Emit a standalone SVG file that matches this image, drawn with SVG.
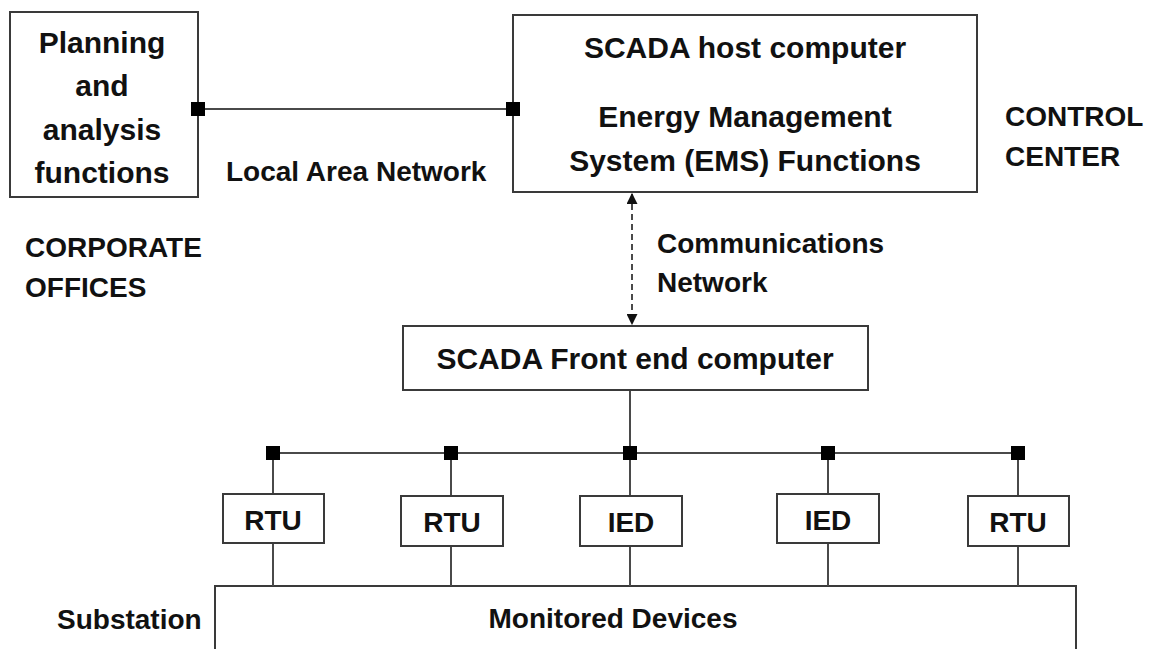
<svg xmlns="http://www.w3.org/2000/svg" width="1155" height="649" viewBox="0 0 1155 649">
<style>
.box{fill:#fff;stroke:#3a3a3a;stroke-width:2}
.ln{stroke:#4a4a4a;stroke-width:2;fill:none}
.t{font-family:"Liberation Sans",Arial,sans-serif;font-weight:bold;font-size:28px;fill:#111}
.tb{font-size:30px}
.c{text-anchor:middle}
.sq{fill:#000}
</style>
<defs>
<marker id="ah" viewBox="0 0 10 10" refX="9" refY="5" markerWidth="11" markerHeight="11" markerUnits="userSpaceOnUse" orient="auto-start-reverse">
<path d="M0,0 L10,5 L0,10 z" fill="#111"/>
</marker>
</defs>
<rect width="1155" height="649" fill="#fff"/>
<g id="planning">
<rect class="box" x="10" y="12" width="188" height="185"/>
<text class="t tb c" x="102" y="53">Planning</text>
<text class="t tb c" x="102" y="96">and</text>
<text class="t tb c" x="102" y="140">analysis</text>
<text class="t tb c" x="102" y="183">functions</text>
</g>
<g id="host">
<rect class="box" x="513" y="15" width="464" height="177"/>
<text class="t tb c" x="745" y="58">SCADA host computer</text>
<text class="t tb c" x="745" y="127">Energy Management</text>
<text class="t tb c" x="745" y="171">System (EMS) Functions</text>
</g>
<g id="frontend">
<rect class="box" x="403" y="326" width="465" height="64"/>
<text class="t tb c" x="635" y="369">SCADA Front end computer</text>
</g>
<g id="rtu1"><rect class="box" x="223" y="494" width="101" height="49"/><text class="t c" x="273" y="530">RTU</text></g>
<g id="rtu2"><rect class="box" x="401" y="496" width="102" height="50"/><text class="t c" x="452" y="532">RTU</text></g>
<g id="ied1"><rect class="box" x="580" y="496" width="102" height="50"/><text class="t c" x="631" y="532">IED</text></g>
<g id="ied2"><rect class="box" x="777" y="494" width="102" height="49"/><text class="t c" x="828" y="530">IED</text></g>
<g id="rtu3"><rect class="box" x="968" y="496" width="101" height="50"/><text class="t c" x="1018" y="532">RTU</text></g>
<g id="monitored">
<rect class="box" x="215" y="586" width="861" height="80"/>
<text class="t c" x="613" y="628">Monitored Devices</text>
</g>
<g id="connectors">
<line class="ln" x1="198" y1="109" x2="513" y2="109"/>
<line class="ln" x1="632" y1="194" x2="632" y2="324" stroke-dasharray="6,4" marker-start="url(#ah)" marker-end="url(#ah)"/>
<line class="ln" x1="630" y1="391" x2="630" y2="453"/>
<line class="ln" x1="273" y1="453" x2="1018" y2="453"/>
<line class="ln" x1="273" y1="453" x2="273" y2="493"/>
<line class="ln" x1="451" y1="453" x2="451" y2="495"/>
<line class="ln" x1="630" y1="453" x2="630" y2="495"/>
<line class="ln" x1="828" y1="453" x2="828" y2="493"/>
<line class="ln" x1="1018" y1="453" x2="1018" y2="495"/>
<line class="ln" x1="273" y1="544" x2="273" y2="586"/>
<line class="ln" x1="451" y1="547" x2="451" y2="586"/>
<line class="ln" x1="630" y1="547" x2="630" y2="586"/>
<line class="ln" x1="828" y1="544" x2="828" y2="586"/>
<line class="ln" x1="1018" y1="547" x2="1018" y2="586"/>
<rect class="sq" x="191" y="102" width="14" height="14"/>
<rect class="sq" x="506" y="102" width="14" height="14"/>
<rect class="sq" x="266" y="446" width="14" height="14"/>
<rect class="sq" x="444" y="446" width="14" height="14"/>
<rect class="sq" x="623" y="446" width="14" height="14"/>
<rect class="sq" x="821" y="446" width="14" height="14"/>
<rect class="sq" x="1011" y="446" width="14" height="14"/>
</g>
<g id="labels">
<text class="t" x="226" y="181">Local Area Network</text>
<text class="t" x="1005" y="126">CONTROL</text>
<text class="t" x="1005" y="166">CENTER</text>
<text class="t" x="25" y="257">CORPORATE</text>
<text class="t" x="25" y="297">OFFICES</text>
<text class="t" x="657" y="253">Communications</text>
<text class="t" x="657" y="292">Network</text>
<text class="t" x="57" y="629">Substation</text>
</g>
</svg>
